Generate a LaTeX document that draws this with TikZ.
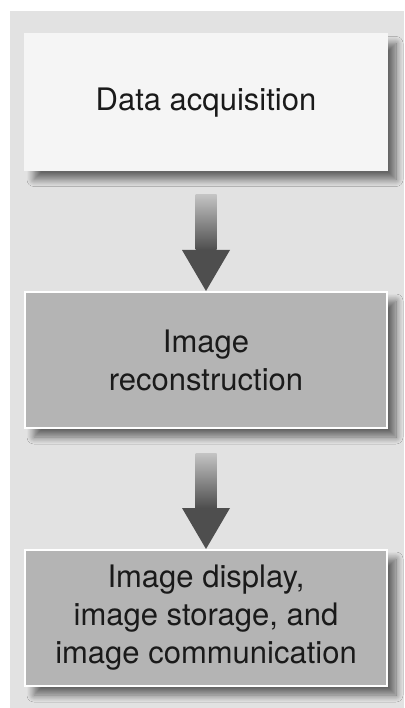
\documentclass[tikz,border=0pt]{standalone}
\usepackage{fontspec}
\setmainfont{TeX Gyre Heros}
\usetikzlibrary{shadows.blur,calc}
\definecolor{panel}{HTML}{E2E2E2}
\definecolor{boxlight}{HTML}{F5F5F5}
\definecolor{boxdark}{HTML}{B4B4B4}
\definecolor{txt}{HTML}{1A1A1A}
\definecolor{arrowdark}{HTML}{4E4E4E}
\definecolor{arrowlight}{HTML}{C4C4C4}
\begin{document}
\begin{tikzpicture}[x=1pt,y=-1pt,
  box/.style={rectangle, minimum width=362pt, minimum height=136pt, line width=2pt,
    align=center, text=txt, font=\fontsize{31}{38}\selectfont, inner sep=0pt,
    blur shadow={shadow xshift=9pt, shadow yshift=-9pt, shadow opacity=55,
      shadow blur radius=7pt, shadow blur steps=12}},
  lightbox/.style={box, fill=boxlight, draw=boxlight},
  darkbox/.style={box, fill=boxdark, draw=white},
  arrowhead/.style={fill=arrowdark},
  shaft/.style={top color=arrowlight, bottom color=arrowdark}
]
\useasboundingbox (0,0) rectangle (404,708);
\fill[white] (0,0) rectangle (404,708);
\fill[panel] (10,11) rectangle (404,708);

\node[lightbox] (a) at (206,102.5) {Data acquisition};
\node[darkbox] (b) at (206,360) {Image\\reconstruction};
\node[darkbox] (c) at (206,618) {Image display,\\image storage, and\\image communication};

% arrow a -> b
\coordinate (s1) at ($(a.south)+(0,23)$);
\coordinate (h1) at ($(b.north)+(0,-41)$);
\shade[shaft] ($(s1)+(-10.5,0)$) rectangle ($(h1)+(10.5,0)$);
\fill[arrowhead] ($(h1)+(-24,0)$) -- ($(h1)+(24,0)$) -- (b.north) -- cycle;

% arrow b -> c
\coordinate (s2) at ($(b.south)+(0,24)$);
\coordinate (h2) at ($(c.north)+(0,-41)$);
\shade[shaft] ($(s2)+(-10.5,0)$) rectangle ($(h2)+(10.5,0)$);
\fill[arrowhead] ($(h2)+(-24,0)$) -- ($(h2)+(24,0)$) -- (c.north) -- cycle;
\end{tikzpicture}
\end{document}
